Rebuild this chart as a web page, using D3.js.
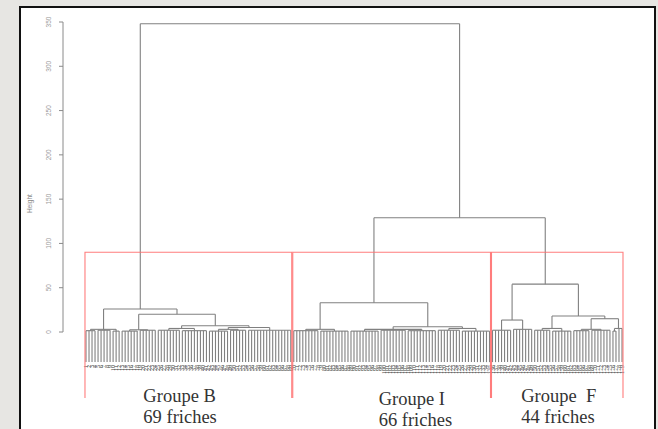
<!DOCTYPE html>
<html>
<head>
<meta charset="utf-8">
<title>Dendrogramme des friches</title>
<script src="https://d3js.org/d3.v7.min.js"></script>
<style>
  body { margin: 0; background: #e7e6e3; }
  svg { display: block; }
  .serif { font-family: "Liberation Serif", "Times New Roman", serif; }
  .sans { font-family: "Liberation Sans", Arial, sans-serif; }
</style>
</head>
<body>
<svg id="chart" width="658" height="429"></svg>
<script>
// groups cut from the tree
const groupNames = ["Groupe B", "Groupe I", "Groupe  F"];
const groupSizes = [69, 66, 44];
const heightTicks = [0, 50, 100, 150, 200, 250, 300, 350];
const cutHeight = 90;
const leafDrop = -34;   // where the leaves end, in height units

// sub-trees: [height, child, child, ...], a bare number n means n single leaves
const groupB = [26, [3, [1.5, 4], [2, 5], [1, 3]],
                    [20, [2.5, [1, 6], [2, 6]],
                         [7, [4, [2, 8], [1.5, 9]],
                             [5, [3, [1, 7], [2, 6]], [2, 15]]]]];
const groupI = [33, [3, [1.5, 9], [1, 10]],
                    [6, [3, [1, 10], [2, 9], [1.5, 10]],
                        [4, [2, 8], [1, 10]]]];
const groupF = [54, [13.5, [2, 7], [3, 7]],
                    [18, [4, [2, 6], [1, 7]],
                         [15, [3, [1.5, 6], [2, 7]], [4, [1, 2], 2]]]];
const topHeights = [129, 348];   // I+F join, then everything
const leafLabels = d3.range(1, 180).map(String);

const svg = d3.select("#chart");

// white panel with black frame
svg.append("rect")
    .attr("x", 20).attr("y", 7)
    .attr("width", 635).attr("height", 440)
    .attr("fill", "#fff").attr("stroke", "#111").attr("stroke-width", 2);

function build(a) {
    const kids = [];
    a.slice(1).forEach(c => {
        if (typeof c === "number") {
            for (let i = 0; i < c; i++) kids.push({ h: leafDrop });
        } else {
            kids.push(build(c));
        }
    });
    return { h: a[0], children: kids };
}

const tree = {
    h: topHeights[1],
    children: [build(groupB), { h: topHeights[0], children: [build(groupI), build(groupF)] }]
};

const nLeaves = d3.sum(groupSizes);
const root = d3.hierarchy(tree);
d3.cluster().separation(() => 1).size([nLeaves, 1])(root);

const x = d3.scaleLinear().domain([0.5, nLeaves - 0.5]).range([86, 622]);
const y = d3.scaleLinear().domain([0, 350]).range([332, 22]);

// dendrogram
const g = svg.append("g")
    .attr("fill", "none")
    .attr("stroke", "#808080")
    .attr("stroke-width", 1.1);

root.descendants().filter(d => d.children).forEach(d => {
    const kids = d.children;
    g.append("path")
        .attr("d", `M${x(kids[0].x)},${y(d.data.h)}H${x(kids[kids.length - 1].x)}`);
    kids.forEach(c => {
        g.append("path")
            .attr("d", `M${x(c.x)},${y(d.data.h)}V${y(c.data.h)}`);
    });
});

// leaf labels
svg.append("g")
    .attr("class", "serif")
    .selectAll("text")
    .data(root.leaves())
    .join("text")
    .attr("transform", d => `translate(${x(d.x) + 2},${y(leafDrop) + 3}) rotate(-90)`)
    .attr("text-anchor", "end")
    .attr("font-size", 6)
    .attr("fill", "#444")
    .text((d, i) => leafLabels[i]);

// y axis
const axis = svg.append("g").attr("transform", "translate(63,0)");
axis.append("path")
    .attr("d", `M0,${y(0)}V${y(350)}`)
    .attr("stroke", "#8a8a8a").attr("fill", "none");
axis.selectAll("line")
    .data(heightTicks)
    .join("line")
    .attr("x1", -4).attr("x2", 0)
    .attr("y1", d => y(d)).attr("y2", d => y(d))
    .attr("stroke", "#8a8a8a");
axis.selectAll("text")
    .data(heightTicks)
    .join("text")
    .attr("class", "sans")
    .attr("transform", d => `translate(-12,${y(d)}) rotate(-90)`)
    .attr("text-anchor", "middle")
    .attr("font-size", 6.5)
    .attr("fill", "#999")
    .text(d => d);
svg.append("text")
    .attr("class", "sans")
    .attr("transform", `translate(32,${y(145)}) rotate(-90)`)
    .attr("text-anchor", "middle")
    .attr("font-size", 6.5)
    .attr("fill", "#888")
    .text("Height");

// rectangles around the three groups
const bounds = [0, ...d3.cumsum(groupSizes)];
const rectBottom = 398;
const boxes = svg.append("g")
    .attr("fill", "none")
    .attr("stroke", "#ff6f6f")
    .attr("stroke-opacity", 0.9)
    .attr("stroke-width", 1.1);
groupSizes.forEach((n, i) => {
    const x0 = x(bounds[i] + 0.16), x1 = x(bounds[i + 1] - 0.17);
    boxes.append("path")
        .attr("d", `M${x0},${rectBottom}V${y(cutHeight)}H${x1}V${rectBottom}`);
});

// group captions
const labelShift = [[-45, 0], [-13, 3], [-36, 0]];
groupNames.forEach((name, i) => {
    const cx = (x(bounds[i] + 0.16) + x(bounds[i + 1] - 0.17)) / 2 + labelShift[i][0];
    const t = svg.append("text")
        .attr("class", "serif")
        .attr("font-size", 18.5)
        .attr("fill", "#333")
        .style("white-space", "pre");
    t.append("tspan").attr("x", cx).attr("y", 402 + labelShift[i][1]).text(name);
    t.append("tspan").attr("x", cx).attr("y", 423 + labelShift[i][1]).text(groupSizes[i] + " friches");
});
</script>
</body>
</html>
